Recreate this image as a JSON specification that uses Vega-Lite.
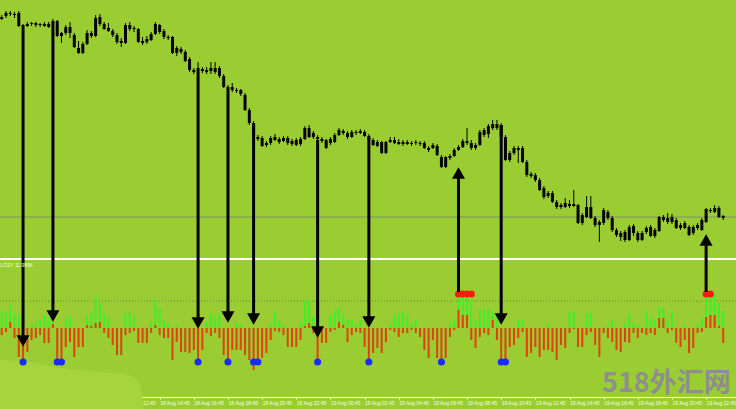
{
"$schema":"https://vega.github.io/schema/vega-lite/v6.json",
"width":736,"height":409,"autosize":"none","padding":0,
"background":"#9acd32",
"config":{"view":{"stroke":null,"fill":"#9acd32"}},
"datasets":{
"bars":[
{"t":"2023-08-18T05:30Z","o":133.83,"h":133.85,"l":133.80,"c":133.81,"g":16,"r":-7},
{"t":"2023-08-18T05:45Z","o":133.84,"h":133.89,"l":133.82,"c":133.87,"g":16,"r":-4},
{"t":"2023-08-18T06:00Z","o":133.87,"h":133.89,"l":133.84,"c":133.86,"g":23,"r":6},
{"t":"2023-08-18T06:15Z","o":133.85,"h":133.88,"l":133.82,"c":133.86,"g":15,"r":-10},
{"t":"2023-08-18T06:30Z","o":133.87,"h":133.89,"l":133.73,"c":133.74,"g":13,"r":-29},
{"t":"2023-08-18T06:45Z","o":133.73,"h":133.76,"l":133.71,"c":133.75,"g":0,"r":-32},
{"t":"2023-08-18T07:00Z","o":133.74,"h":133.78,"l":133.73,"c":133.76,"g":0,"r":-24},
{"t":"2023-08-18T07:15Z","o":133.77,"h":133.78,"l":133.74,"c":133.76,"g":3,"r":-12},
{"t":"2023-08-18T07:30Z","o":133.77,"h":133.78,"l":133.73,"c":133.75,"g":6,"r":-10},
{"t":"2023-08-18T07:45Z","o":133.75,"h":133.77,"l":133.73,"c":133.76,"g":8,"r":-7},
{"t":"2023-08-18T08:00Z","o":133.76,"h":133.78,"l":133.73,"c":133.74,"g":13,"r":-15},
{"t":"2023-08-18T08:15Z","o":133.73,"h":133.78,"l":133.72,"c":133.76,"g":10,"r":-15},
{"t":"2023-08-18T08:30Z","o":133.77,"h":133.81,"l":133.75,"c":133.79,"g":15,"r":4},
{"t":"2023-08-18T08:45Z","o":133.79,"h":133.80,"l":133.63,"c":133.64,"g":0,"r":-34},
{"t":"2023-08-18T09:00Z","o":133.64,"h":133.68,"l":133.57,"c":133.67,"g":0,"r":-34},
{"t":"2023-08-18T09:15Z","o":133.67,"h":133.75,"l":133.65,"c":133.73,"g":10,"r":-19},
{"t":"2023-08-18T09:30Z","o":133.73,"h":133.78,"l":133.62,"c":133.67,"g":11,"r":-14},
{"t":"2023-08-18T09:45Z","o":133.65,"h":133.67,"l":133.52,"c":133.53,"g":0,"r":-29},
{"t":"2023-08-18T10:00Z","o":133.52,"h":133.59,"l":133.46,"c":133.47,"g":0,"r":-19},
{"t":"2023-08-18T10:15Z","o":133.47,"h":133.58,"l":133.46,"c":133.56,"g":0,"r":-19},
{"t":"2023-08-18T10:30Z","o":133.56,"h":133.70,"l":133.55,"c":133.67,"g":13,"r":3},
{"t":"2023-08-18T10:45Z","o":133.67,"h":133.69,"l":133.62,"c":133.64,"g":16,"r":2},
{"t":"2023-08-18T11:00Z","o":133.64,"h":133.85,"l":133.63,"c":133.82,"g":31,"r":5},
{"t":"2023-08-18T11:15Z","o":133.83,"h":133.86,"l":133.74,"c":133.76,"g":26,"r":6},
{"t":"2023-08-18T11:30Z","o":133.76,"h":133.78,"l":133.70,"c":133.71,"g":15,"r":-5},
{"t":"2023-08-18T11:45Z","o":133.72,"h":133.77,"l":133.68,"c":133.69,"g":10,"r":-10},
{"t":"2023-08-18T12:00Z","o":133.69,"h":133.71,"l":133.63,"c":133.65,"g":0,"r":-17},
{"t":"2023-08-18T12:15Z","o":133.65,"h":133.67,"l":133.56,"c":133.58,"g":0,"r":-27},
{"t":"2023-08-18T12:30Z","o":133.57,"h":133.62,"l":133.53,"c":133.59,"g":0,"r":-27},
{"t":"2023-08-18T12:45Z","o":133.57,"h":133.77,"l":133.56,"c":133.75,"g":15,"r":-7},
{"t":"2023-08-18T13:00Z","o":133.75,"h":133.78,"l":133.69,"c":133.71,"g":16,"r":-5},
{"t":"2023-08-18T13:15Z","o":133.71,"h":133.74,"l":133.68,"c":133.72,"g":11,"r":-3},
{"t":"2023-08-18T13:30Z","o":133.71,"h":133.72,"l":133.57,"c":133.58,"g":0,"r":-15},
{"t":"2023-08-18T13:45Z","o":133.59,"h":133.63,"l":133.55,"c":133.57,"g":0,"r":-15},
{"t":"2023-08-18T14:00Z","o":133.58,"h":133.64,"l":133.56,"c":133.61,"g":0,"r":-15},
{"t":"2023-08-18T14:15Z","o":133.60,"h":133.68,"l":133.59,"c":133.66,"g":6,"r":-5},
{"t":"2023-08-18T14:30Z","o":133.66,"h":133.78,"l":133.65,"c":133.76,"g":28,"r":3},
{"t":"2023-08-18T14:45Z","o":133.75,"h":133.76,"l":133.66,"c":133.68,"g":20,"r":-7},
{"t":"2023-08-18T15:00Z","o":133.69,"h":133.71,"l":133.61,"c":133.63,"g":8,"r":-10},
{"t":"2023-08-18T15:15Z","o":133.63,"h":133.65,"l":133.60,"c":133.62,"g":5,"r":-10},
{"t":"2023-08-18T15:30Z","o":133.63,"h":133.64,"l":133.46,"c":133.47,"g":0,"r":-32},
{"t":"2023-08-18T15:45Z","o":133.47,"h":133.54,"l":133.44,"c":133.52,"g":2,"r":-14},
{"t":"2023-08-18T16:00Z","o":133.51,"h":133.53,"l":133.46,"c":133.48,"g":0,"r":-24},
{"t":"2023-08-18T16:15Z","o":133.48,"h":133.50,"l":133.38,"c":133.39,"g":0,"r":-24},
{"t":"2023-08-18T16:30Z","o":133.41,"h":133.43,"l":133.28,"c":133.30,"g":0,"r":-25},
{"t":"2023-08-18T16:45Z","o":133.30,"h":133.32,"l":133.26,"c":133.28,"g":0,"r":-22},
{"t":"2023-08-18T17:00Z","o":133.28,"h":133.38,"l":133.26,"c":133.32,"g":0,"r":-32},
{"t":"2023-08-18T17:15Z","o":133.31,"h":133.33,"l":133.27,"c":133.29,"g":0,"r":-22},
{"t":"2023-08-18T17:30Z","o":133.28,"h":133.33,"l":133.26,"c":133.30,"g":6,"r":-5},
{"t":"2023-08-18T17:45Z","o":133.29,"h":133.38,"l":133.26,"c":133.32,"g":15,"r":-8},
{"t":"2023-08-18T18:00Z","o":133.32,"h":133.38,"l":133.26,"c":133.28,"g":13,"r":-5},
{"t":"2023-08-18T18:15Z","o":133.32,"h":133.34,"l":133.22,"c":133.24,"g":15,"r":-10},
{"t":"2023-08-18T18:30Z","o":133.24,"h":133.26,"l":133.12,"c":133.13,"g":0,"r":-27},
{"t":"2023-08-18T18:45Z","o":133.13,"h":133.15,"l":133.09,"c":133.11,"g":0,"r":-32},
{"t":"2023-08-18T19:00Z","o":133.10,"h":133.17,"l":133.08,"c":133.13,"g":0,"r":-22},
{"t":"2023-08-18T19:15Z","o":133.10,"h":133.12,"l":133.07,"c":133.09,"g":5,"r":-22},
{"t":"2023-08-18T19:30Z","o":133.10,"h":133.11,"l":133.04,"c":133.06,"g":3,"r":-22},
{"t":"2023-08-18T19:45Z","o":133.05,"h":133.07,"l":132.89,"c":132.90,"g":0,"r":-27},
{"t":"2023-08-18T20:00Z","o":132.90,"h":132.92,"l":132.75,"c":132.77,"g":0,"r":-32},
{"t":"2023-08-18T20:15Z","o":132.77,"h":132.79,"l":132.62,"c":132.63,"g":0,"r":-42},
{"t":"2023-08-18T20:30Z","o":132.63,"h":132.65,"l":132.59,"c":132.61,"g":0,"r":-34},
{"t":"2023-08-18T20:45Z","o":132.62,"h":132.64,"l":132.53,"c":132.54,"g":0,"r":-30},
{"t":"2023-08-18T21:00Z","o":132.55,"h":132.59,"l":132.53,"c":132.57,"g":0,"r":-25},
{"t":"2023-08-18T21:15Z","o":132.57,"h":132.64,"l":132.55,"c":132.62,"g":4,"r":-12},
{"t":"2023-08-18T21:30Z","o":132.63,"h":132.66,"l":132.59,"c":132.60,"g":16,"r":-3},
{"t":"2023-08-18T21:45Z","o":132.61,"h":132.63,"l":132.56,"c":132.58,"g":8,"r":-4},
{"t":"2023-08-18T22:00Z","o":132.59,"h":132.64,"l":132.58,"c":132.62,"g":3,"r":-7},
{"t":"2023-08-18T22:15Z","o":132.62,"h":132.64,"l":132.55,"c":132.57,"g":0,"r":-19},
{"t":"2023-08-18T22:30Z","o":132.59,"h":132.61,"l":132.54,"c":132.56,"g":0,"r":-19},
{"t":"2023-08-18T22:45Z","o":132.55,"h":132.62,"l":132.54,"c":132.60,"g":0,"r":-19},
{"t":"2023-08-18T23:00Z","o":132.56,"h":132.63,"l":132.54,"c":132.61,"g":6,"r":-12},
{"t":"2023-08-18T23:15Z","o":132.61,"h":132.74,"l":132.60,"c":132.72,"g":28,"r":2},
{"t":"2023-08-18T23:30Z","o":132.72,"h":132.75,"l":132.62,"c":132.63,"g":28,"r":5},
{"t":"2023-08-18T23:45Z","o":132.63,"h":132.69,"l":132.61,"c":132.67,"g":11,"r":-5},
{"t":"2023-08-19T00:00Z","o":132.63,"h":132.65,"l":132.59,"c":132.61,"g":0,"r":-35},
{"t":"2023-08-19T00:15Z","o":132.61,"h":132.63,"l":132.57,"c":132.59,"g":0,"r":-15},
{"t":"2023-08-19T00:30Z","o":132.60,"h":132.61,"l":132.51,"c":132.52,"g":0,"r":-15},
{"t":"2023-08-19T00:45Z","o":132.57,"h":132.63,"l":132.55,"c":132.61,"g":13,"r":-4},
{"t":"2023-08-19T01:00Z","o":132.58,"h":132.67,"l":132.57,"c":132.65,"g":18,"r":-2},
{"t":"2023-08-19T01:15Z","o":132.65,"h":132.72,"l":132.64,"c":132.70,"g":20,"r":6},
{"t":"2023-08-19T01:30Z","o":132.69,"h":132.71,"l":132.65,"c":132.67,"g":13,"r":3},
{"t":"2023-08-19T01:45Z","o":132.67,"h":132.69,"l":132.61,"c":132.63,"g":8,"r":-14},
{"t":"2023-08-19T02:00Z","o":132.63,"h":132.70,"l":132.62,"c":132.68,"g":8,"r":-7},
{"t":"2023-08-19T02:15Z","o":132.68,"h":132.70,"l":132.65,"c":132.67,"g":3,"r":-4},
{"t":"2023-08-19T02:30Z","o":132.67,"h":132.71,"l":132.66,"c":132.69,"g":8,"r":-5},
{"t":"2023-08-19T02:45Z","o":132.68,"h":132.70,"l":132.63,"c":132.64,"g":0,"r":-19},
{"t":"2023-08-19T03:00Z","o":132.64,"h":132.66,"l":132.59,"c":132.60,"g":0,"r":-32},
{"t":"2023-08-19T03:15Z","o":132.60,"h":132.62,"l":132.54,"c":132.55,"g":0,"r":-25},
{"t":"2023-08-19T03:30Z","o":132.54,"h":132.60,"l":132.53,"c":132.58,"g":0,"r":-20},
{"t":"2023-08-19T03:45Z","o":132.58,"h":132.59,"l":132.46,"c":132.47,"g":0,"r":-25},
{"t":"2023-08-19T04:00Z","o":132.47,"h":132.59,"l":132.46,"c":132.58,"g":0,"r":-14},
{"t":"2023-08-19T04:15Z","o":132.58,"h":132.63,"l":132.57,"c":132.60,"g":5,"r":-2},
{"t":"2023-08-19T04:30Z","o":132.60,"h":132.63,"l":132.56,"c":132.57,"g":13,"r":-4},
{"t":"2023-08-19T04:45Z","o":132.58,"h":132.61,"l":132.55,"c":132.56,"g":15,"r":-9},
{"t":"2023-08-19T05:00Z","o":132.56,"h":132.60,"l":132.54,"c":132.58,"g":16,"r":-5},
{"t":"2023-08-19T05:15Z","o":132.58,"h":132.60,"l":132.55,"c":132.56,"g":13,"r":-5},
{"t":"2023-08-19T05:30Z","o":132.56,"h":132.59,"l":132.54,"c":132.57,"g":5,"r":-2},
{"t":"2023-08-19T05:45Z","o":132.58,"h":132.60,"l":132.55,"c":132.57,"g":8,"r":-5},
{"t":"2023-08-19T06:00Z","o":132.57,"h":132.59,"l":132.54,"c":132.56,"g":0,"r":-9},
{"t":"2023-08-19T06:15Z","o":132.57,"h":132.59,"l":132.51,"c":132.52,"g":0,"r":-22},
{"t":"2023-08-19T06:30Z","o":132.52,"h":132.54,"l":132.48,"c":132.50,"g":0,"r":-30},
{"t":"2023-08-19T06:45Z","o":132.52,"h":132.57,"l":132.51,"c":132.55,"g":0,"r":-12},
{"t":"2023-08-19T07:00Z","o":132.54,"h":132.56,"l":132.44,"c":132.45,"g":0,"r":-30},
{"t":"2023-08-19T07:15Z","o":132.43,"h":132.45,"l":132.32,"c":132.33,"g":0,"r":-36},
{"t":"2023-08-19T07:30Z","o":132.33,"h":132.44,"l":132.32,"c":132.43,"g":0,"r":-30},
{"t":"2023-08-19T07:45Z","o":132.42,"h":132.46,"l":132.40,"c":132.44,"g":6,"r":-9},
{"t":"2023-08-19T08:00Z","o":132.44,"h":132.52,"l":132.43,"c":132.50,"g":8,"r":-2},
{"t":"2023-08-19T08:15Z","o":132.50,"h":132.55,"l":132.49,"c":132.53,"g":31,"r":18},
{"t":"2023-08-19T08:30Z","o":132.53,"h":132.61,"l":132.52,"c":132.59,"g":31,"r":13},
{"t":"2023-08-19T08:45Z","o":132.59,"h":132.72,"l":132.55,"c":132.57,"g":31,"r":13},
{"t":"2023-08-19T09:00Z","o":132.57,"h":132.60,"l":132.50,"c":132.52,"g":28,"r":-12},
{"t":"2023-08-19T09:15Z","o":132.52,"h":132.57,"l":132.50,"c":132.55,"g":8,"r":-20},
{"t":"2023-08-19T09:30Z","o":132.55,"h":132.70,"l":132.54,"c":132.68,"g":18,"r":-9},
{"t":"2023-08-19T09:45Z","o":132.70,"h":132.72,"l":132.63,"c":132.65,"g":18,"r":-5},
{"t":"2023-08-19T10:00Z","o":132.66,"h":132.76,"l":132.62,"c":132.74,"g":20,"r":-7},
{"t":"2023-08-19T10:15Z","o":132.76,"h":132.80,"l":132.70,"c":132.72,"g":16,"r":8},
{"t":"2023-08-19T10:30Z","o":132.72,"h":132.80,"l":132.70,"c":132.76,"g":15,"r":-12},
{"t":"2023-08-19T10:45Z","o":132.75,"h":132.77,"l":132.61,"c":132.63,"g":0,"r":-32},
{"t":"2023-08-19T11:00Z","o":132.63,"h":132.65,"l":132.39,"c":132.40,"g":0,"r":-32},
{"t":"2023-08-19T11:15Z","o":132.40,"h":132.49,"l":132.38,"c":132.47,"g":0,"r":-19},
{"t":"2023-08-19T11:30Z","o":132.47,"h":132.54,"l":132.45,"c":132.52,"g":0,"r":-17},
{"t":"2023-08-19T11:45Z","o":132.50,"h":132.54,"l":132.37,"c":132.52,"g":8,"r":-10},
{"t":"2023-08-19T12:00Z","o":132.52,"h":132.54,"l":132.37,"c":132.38,"g":8,"r":-4},
{"t":"2023-08-19T12:15Z","o":132.38,"h":132.40,"l":132.23,"c":132.25,"g":0,"r":-29},
{"t":"2023-08-19T12:30Z","o":132.26,"h":132.28,"l":132.22,"c":132.24,"g":0,"r":-25},
{"t":"2023-08-19T12:45Z","o":132.25,"h":132.27,"l":132.18,"c":132.20,"g":0,"r":-19},
{"t":"2023-08-19T13:00Z","o":132.20,"h":132.22,"l":132.09,"c":132.10,"g":0,"r":-29},
{"t":"2023-08-19T13:15Z","o":132.12,"h":132.14,"l":132.01,"c":132.03,"g":0,"r":-22},
{"t":"2023-08-19T13:30Z","o":132.04,"h":132.09,"l":132.02,"c":132.07,"g":5,"r":-22},
{"t":"2023-08-19T13:45Z","o":132.07,"h":132.09,"l":131.97,"c":131.98,"g":0,"r":-24},
{"t":"2023-08-19T14:00Z","o":131.98,"h":132.00,"l":131.91,"c":131.93,"g":0,"r":-32},
{"t":"2023-08-19T14:15Z","o":131.93,"h":131.97,"l":131.91,"c":131.95,"g":1,"r":-17},
{"t":"2023-08-19T14:30Z","o":131.93,"h":132.02,"l":131.92,"c":131.97,"g":0,"r":-20},
{"t":"2023-08-19T14:45Z","o":131.96,"h":132.00,"l":131.92,"c":131.94,"g":16,"r":-5},
{"t":"2023-08-19T15:00Z","o":131.94,"h":132.10,"l":131.93,"c":131.96,"g":16,"r":-1},
{"t":"2023-08-19T15:15Z","o":131.95,"h":131.96,"l":131.76,"c":131.77,"g":0,"r":-19},
{"t":"2023-08-19T15:30Z","o":131.77,"h":131.87,"l":131.75,"c":131.85,"g":0,"r":-19},
{"t":"2023-08-19T15:45Z","o":131.83,"h":132.04,"l":131.82,"c":131.93,"g":15,"r":-7},
{"t":"2023-08-19T16:00Z","o":131.93,"h":132.04,"l":131.81,"c":131.82,"g":15,"r":-4},
{"t":"2023-08-19T16:15Z","o":131.82,"h":131.84,"l":131.73,"c":131.75,"g":0,"r":-17},
{"t":"2023-08-19T16:30Z","o":131.78,"h":131.80,"l":131.58,"c":131.75,"g":0,"r":-29},
{"t":"2023-08-19T16:45Z","o":131.77,"h":131.92,"l":131.75,"c":131.90,"g":1,"r":-5},
{"t":"2023-08-19T17:00Z","o":131.88,"h":131.90,"l":131.80,"c":131.82,"g":3,"r":-10},
{"t":"2023-08-19T17:15Z","o":131.82,"h":131.84,"l":131.68,"c":131.70,"g":8,"r":-14},
{"t":"2023-08-19T17:30Z","o":131.70,"h":131.72,"l":131.63,"c":131.65,"g":0,"r":-22},
{"t":"2023-08-19T17:45Z","o":131.67,"h":131.69,"l":131.59,"c":131.63,"g":0,"r":-24},
{"t":"2023-08-19T18:00Z","o":131.68,"h":131.70,"l":131.58,"c":131.60,"g":5,"r":-14},
{"t":"2023-08-19T18:15Z","o":131.60,"h":131.75,"l":131.59,"c":131.73,"g":15,"r":-15},
{"t":"2023-08-19T18:30Z","o":131.74,"h":131.76,"l":131.64,"c":131.67,"g":5,"r":-5},
{"t":"2023-08-19T18:45Z","o":131.67,"h":131.69,"l":131.58,"c":131.60,"g":3,"r":-10},
{"t":"2023-08-19T19:00Z","o":131.60,"h":131.69,"l":131.59,"c":131.67,"g":0,"r":-5},
{"t":"2023-08-19T19:15Z","o":131.68,"h":131.74,"l":131.66,"c":131.72,"g":16,"r":-7},
{"t":"2023-08-19T19:30Z","o":131.73,"h":131.75,"l":131.63,"c":131.64,"g":10,"r":-5},
{"t":"2023-08-19T19:45Z","o":131.64,"h":131.72,"l":131.62,"c":131.70,"g":8,"r":-7},
{"t":"2023-08-19T20:00Z","o":131.69,"h":131.84,"l":131.68,"c":131.83,"g":21,"r":10},
{"t":"2023-08-19T20:15Z","o":131.80,"h":131.85,"l":131.78,"c":131.83,"g":20,"r":10},
{"t":"2023-08-19T20:30Z","o":131.82,"h":131.87,"l":131.76,"c":131.78,"g":8,"r":-5},
{"t":"2023-08-19T20:45Z","o":131.78,"h":131.86,"l":131.76,"c":131.83,"g":16,"r":-2},
{"t":"2023-08-19T21:00Z","o":131.80,"h":131.82,"l":131.71,"c":131.72,"g":0,"r":-15},
{"t":"2023-08-19T21:15Z","o":131.72,"h":131.77,"l":131.70,"c":131.75,"g":0,"r":-19},
{"t":"2023-08-19T21:30Z","o":131.77,"h":131.79,"l":131.71,"c":131.72,"g":3,"r":-12},
{"t":"2023-08-19T21:45Z","o":131.73,"h":131.75,"l":131.64,"c":131.65,"g":0,"r":-25},
{"t":"2023-08-19T22:00Z","o":131.67,"h":131.75,"l":131.65,"c":131.73,"g":0,"r":-20},
{"t":"2023-08-19T22:15Z","o":131.72,"h":131.77,"l":131.70,"c":131.75,"g":3,"r":-5},
{"t":"2023-08-19T22:30Z","o":131.70,"h":131.82,"l":131.69,"c":131.80,"g":10,"r":-4},
{"t":"2023-08-19T22:45Z","o":131.78,"h":131.92,"l":131.77,"c":131.91,"g":34,"r":11},
{"t":"2023-08-19T23:00Z","o":131.90,"h":131.92,"l":131.87,"c":131.89,"g":34,"r":13},
{"t":"2023-08-19T23:15Z","o":131.88,"h":131.95,"l":131.87,"c":131.92,"g":34,"r":13},
{"t":"2023-08-19T23:30Z","o":131.92,"h":131.94,"l":131.82,"c":131.83,"g":25,"r":2},
{"t":"2023-08-19T23:45Z","o":131.84,"h":131.85,"l":131.80,"c":131.82,"g":17,"r":-15}
],
"arrows":[
{"t":"2023-08-18T06:45Z","from":133.73,"to":130.53,"dir":"down"},
{"t":"2023-08-18T08:30Z","from":133.77,"to":130.78,"dir":"down"},
{"t":"2023-08-18T17:00Z","from":133.28,"to":130.71,"dir":"down"},
{"t":"2023-08-18T18:45Z","from":133.11,"to":130.77,"dir":"down"},
{"t":"2023-08-18T20:15Z","from":132.75,"to":130.75,"dir":"down"},
{"t":"2023-08-19T00:00Z","from":132.60,"to":130.62,"dir":"down"},
{"t":"2023-08-19T03:00Z","from":132.62,"to":130.72,"dir":"down"},
{"t":"2023-08-19T10:45Z","from":132.75,"to":130.75,"dir":"down"},
{"t":"2023-08-19T08:15Z","from":131.08,"to":132.33,"dir":"up"},
{"t":"2023-08-19T22:45Z","from":131.08,"to":131.66,"dir":"up"}
],
"dots":[
{"t":"2023-08-18T06:45Z","v":-34,"kind":"blue"},
{"t":"2023-08-18T08:45Z","v":-34,"kind":"blue"},
{"t":"2023-08-18T09:00Z","v":-34,"kind":"blue"},
{"t":"2023-08-18T17:00Z","v":-34,"kind":"blue"},
{"t":"2023-08-18T18:45Z","v":-34,"kind":"blue"},
{"t":"2023-08-18T20:15Z","v":-34,"kind":"blue"},
{"t":"2023-08-18T20:30Z","v":-34,"kind":"blue"},
{"t":"2023-08-19T00:00Z","v":-34,"kind":"blue"},
{"t":"2023-08-19T03:00Z","v":-34,"kind":"blue"},
{"t":"2023-08-19T07:15Z","v":-34,"kind":"blue"},
{"t":"2023-08-19T10:45Z","v":-34,"kind":"blue"},
{"t":"2023-08-19T11:00Z","v":-34,"kind":"blue"},
{"t":"2023-08-19T08:15Z","v":34,"kind":"red"},
{"t":"2023-08-19T08:30Z","v":34,"kind":"red"},
{"t":"2023-08-19T08:45Z","v":34,"kind":"red"},
{"t":"2023-08-19T09:00Z","v":34,"kind":"red"},
{"t":"2023-08-19T22:45Z","v":34,"kind":"red"},
{"t":"2023-08-19T23:00Z","v":34,"kind":"red"}
],
"blob":[
{"t":"2023-08-18T05:20Z","v":-32},
{"t":"2023-08-18T07:09Z","v":-34},
{"t":"2023-08-18T08:55Z","v":-40},
{"t":"2023-08-18T11:15Z","v":-44},
{"t":"2023-08-18T13:00Z","v":-47},
{"t":"2023-08-18T13:36Z","v":-57},
{"t":"2023-08-18T13:47Z","v":-81}
],
"notes":[
{"t":"2023-08-19T16:39Z","v":-70,"text":"518外汇网","kind":"wm"},
{"t":"2023-08-18T05:25Z","v":63,"text":"LOSY 11.9996","kind":"label"}
]
},
"layer":[
{"data":{"name":"blob"},"mark":{"type":"area","color":"#a6d53b","interpolate":"monotone"},
 "encoding":{"x":{"field":"t","type":"temporal","axis":null,"scale":{"type":"utc","padding":0,"domain":[{"year":2023,"month":8,"date":18,"hours":5,"minutes":24,"utc":true},{"year":2023,"month":8,"date":20,"hours":0,"minutes":30,"utc":true}]}},
 "y":{"field":"v","type":"quantitative","axis":null,"scale":{"domain":[-81,328],"nice":false,"zero":false}},
 "y2":{"datum":-81}}},
{"data":{"values":[{"k":1}]},"mark":{"type":"rule","color":"#7f8f66","strokeWidth":1},
 "encoding":{"y":{"datum":131.83,"type":"quantitative","axis":null,"scale":{"domain":[129.91,134.0],"nice":false,"zero":false}}}},
{"data":{"values":[{"k":1}]},"mark":{"type":"rule","color":"#ffffff","strokeWidth":2},
 "encoding":{"y":{"datum":131.41,"type":"quantitative","axis":null,"scale":{"domain":[129.91,134.0],"nice":false,"zero":false}}}},
{"data":{"values":[{"k":1}]},"mark":{"type":"rule","color":"#6f8048","strokeWidth":1,"strokeDash":[1,2]},
 "encoding":{"y":{"datum":27,"type":"quantitative","axis":null,"scale":{"domain":[-81,328],"nice":false,"zero":false}}}},
{"data":{"name":"bars"},"mark":{"type":"bar","color":"#3df02a","width":2},
 "encoding":{"x":{"field":"t","type":"temporal","title":null,"scale":{"type":"utc","padding":0,"domain":[{"year":2023,"month":8,"date":18,"hours":5,"minutes":24,"utc":true},{"year":2023,"month":8,"date":20,"hours":0,"minutes":30,"utc":true}]},
   "axis":{"orient":"bottom","offset":-12,"grid":false,"title":null,
     "values":[{"year":2023,"month":8,"date":18,"hours":10,"minutes":45,"utc":true},{"year":2023,"month":8,"date":18,"hours":12,"minutes":45,"utc":true},{"year":2023,"month":8,"date":18,"hours":14,"minutes":45,"utc":true},{"year":2023,"month":8,"date":18,"hours":16,"minutes":45,"utc":true},{"year":2023,"month":8,"date":18,"hours":18,"minutes":45,"utc":true},{"year":2023,"month":8,"date":18,"hours":20,"minutes":45,"utc":true},{"year":2023,"month":8,"date":18,"hours":22,"minutes":45,"utc":true},{"year":2023,"month":8,"date":19,"hours":0,"minutes":45,"utc":true},{"year":2023,"month":8,"date":19,"hours":2,"minutes":45,"utc":true},{"year":2023,"month":8,"date":19,"hours":4,"minutes":45,"utc":true},{"year":2023,"month":8,"date":19,"hours":6,"minutes":45,"utc":true},{"year":2023,"month":8,"date":19,"hours":8,"minutes":45,"utc":true},{"year":2023,"month":8,"date":19,"hours":10,"minutes":45,"utc":true},{"year":2023,"month":8,"date":19,"hours":12,"minutes":45,"utc":true},{"year":2023,"month":8,"date":19,"hours":14,"minutes":45,"utc":true},{"year":2023,"month":8,"date":19,"hours":16,"minutes":45,"utc":true},{"year":2023,"month":8,"date":19,"hours":18,"minutes":45,"utc":true},{"year":2023,"month":8,"date":19,"hours":20,"minutes":45,"utc":true},{"year":2023,"month":8,"date":19,"hours":22,"minutes":45,"utc":true}],
     "labelExpr":"utcFormat(datum.value, '%d %b %H:%M')",
     "labelColor":"#f4ffe0","labelFont":"Liberation Sans","labelFontSize":5,"labelAlign":"left","labelBaseline":"top","labelPadding":1,"labelOverlap":false,"labelFlush":false,"labelBound":false,
     "domainColor":"#f4ffe0","domainWidth":1,"tickColor":"#f4ffe0","tickSize":2,"tickWidth":1}},
 "y":{"field":"g","type":"quantitative","axis":null,"scale":{"domain":[-81,328],"nice":false,"zero":false}},
 "y2":{"datum":0}}},
{"data":{"name":"bars"},"mark":{"type":"bar","color":"#e0420e","width":2},
 "encoding":{"x":{"field":"t","type":"temporal","axis":null,"scale":{"type":"utc","padding":0,"domain":[{"year":2023,"month":8,"date":18,"hours":5,"minutes":24,"utc":true},{"year":2023,"month":8,"date":20,"hours":0,"minutes":30,"utc":true}]}},
 "y":{"field":"r","type":"quantitative","axis":null,"scale":{"domain":[-81,328],"nice":false,"zero":false}},
 "y2":{"datum":0}}},
{"data":{"name":"bars"},"mark":{"type":"rule","color":"#000000","strokeWidth":1},
 "encoding":{"x":{"field":"t","type":"temporal","axis":null,"scale":{"type":"utc","padding":0,"domain":[{"year":2023,"month":8,"date":18,"hours":5,"minutes":24,"utc":true},{"year":2023,"month":8,"date":20,"hours":0,"minutes":30,"utc":true}]}},
 "y":{"field":"l","type":"quantitative","axis":null,"scale":{"domain":[129.91,134.0],"nice":false,"zero":false}},
 "y2":{"field":"h"}}},
{"data":{"name":"bars"},"mark":{"type":"bar","color":"#000000","width":3},
 "encoding":{"x":{"field":"t","type":"temporal","axis":null,"scale":{"type":"utc","padding":0,"domain":[{"year":2023,"month":8,"date":18,"hours":5,"minutes":24,"utc":true},{"year":2023,"month":8,"date":20,"hours":0,"minutes":30,"utc":true}]}},
 "y":{"field":"o","type":"quantitative","axis":null,"scale":{"domain":[129.91,134.0],"nice":false,"zero":false}},
 "y2":{"field":"c"}}},
{"data":{"name":"dots"},"mark":{"type":"point","filled":true,"shape":"circle","size":50,"opacity":1},
 "encoding":{"x":{"field":"t","type":"temporal","axis":null,"scale":{"type":"utc","padding":0,"domain":[{"year":2023,"month":8,"date":18,"hours":5,"minutes":24,"utc":true},{"year":2023,"month":8,"date":20,"hours":0,"minutes":30,"utc":true}]}},
 "y":{"field":"v","type":"quantitative","axis":null,"scale":{"domain":[-81,328],"nice":false,"zero":false}},
 "color":{"field":"kind","type":"nominal","legend":null,"scale":{"domain":["blue","red"],"range":["#1a2cff","#ff1a10"]}}}},
{"data":{"name":"arrows"},"transform":[{"filter":"datum.dir == 'down'"}],"mark":{"type":"rule","color":"#000000","strokeWidth":3,"y2Offset":-8},
 "encoding":{"x":{"field":"t","type":"temporal","axis":null,"scale":{"type":"utc","padding":0,"domain":[{"year":2023,"month":8,"date":18,"hours":5,"minutes":24,"utc":true},{"year":2023,"month":8,"date":20,"hours":0,"minutes":30,"utc":true}]}},
 "y":{"field":"from","type":"quantitative","axis":null,"scale":{"domain":[129.91,134.0],"nice":false,"zero":false}},
 "y2":{"field":"to"}}},
{"data":{"name":"arrows"},"transform":[{"filter":"datum.dir == 'up'"}],"mark":{"type":"rule","color":"#000000","strokeWidth":3,"y2Offset":8},
 "encoding":{"x":{"field":"t","type":"temporal","axis":null,"scale":{"type":"utc","padding":0,"domain":[{"year":2023,"month":8,"date":18,"hours":5,"minutes":24,"utc":true},{"year":2023,"month":8,"date":20,"hours":0,"minutes":30,"utc":true}]}},
 "y":{"field":"from","type":"quantitative","axis":null,"scale":{"domain":[129.91,134.0],"nice":false,"zero":false}},
 "y2":{"field":"to"}}},
{"data":{"name":"arrows"},"transform":[{"filter":"datum.dir == 'down'"}],"mark":{"type":"point","shape":"triangle-down","filled":true,"size":170,"color":"#000000","opacity":1,"yOffset":-6},
 "encoding":{"x":{"field":"t","type":"temporal","axis":null,"scale":{"type":"utc","padding":0,"domain":[{"year":2023,"month":8,"date":18,"hours":5,"minutes":24,"utc":true},{"year":2023,"month":8,"date":20,"hours":0,"minutes":30,"utc":true}]}},
 "y":{"field":"to","type":"quantitative","axis":null,"scale":{"domain":[129.91,134.0],"nice":false,"zero":false}}}},
{"data":{"name":"arrows"},"transform":[{"filter":"datum.dir == 'up'"}],"mark":{"type":"point","shape":"triangle-up","filled":true,"size":170,"color":"#000000","opacity":1,"yOffset":6},
 "encoding":{"x":{"field":"t","type":"temporal","axis":null,"scale":{"type":"utc","padding":0,"domain":[{"year":2023,"month":8,"date":18,"hours":5,"minutes":24,"utc":true},{"year":2023,"month":8,"date":20,"hours":0,"minutes":30,"utc":true}]}},
 "y":{"field":"to","type":"quantitative","axis":null,"scale":{"domain":[129.91,134.0],"nice":false,"zero":false}}}},
{"data":{"name":"notes"},"transform":[{"filter":"datum.kind == 'wm'"}],"mark":{"type":"text","align":"left","baseline":"bottom","font":"Noto Sans CJK SC","fontWeight":"bold","fontSize":27,"color":"#8e8e8e"},
 "encoding":{"x":{"field":"t","type":"temporal","axis":null,"scale":{"type":"utc","padding":0,"domain":[{"year":2023,"month":8,"date":18,"hours":5,"minutes":24,"utc":true},{"year":2023,"month":8,"date":20,"hours":0,"minutes":30,"utc":true}]}},
 "y":{"field":"v","type":"quantitative","axis":null,"scale":{"domain":[-81,328],"nice":false,"zero":false}},
 "text":{"field":"text"}}},
{"data":{"name":"notes"},"transform":[{"filter":"datum.kind == 'label'"}],"mark":{"type":"text","align":"left","baseline":"middle","font":"Liberation Sans","fontSize":5,"color":"#f4ffe0"},
 "encoding":{"x":{"field":"t","type":"temporal","axis":null,"scale":{"type":"utc","padding":0,"domain":[{"year":2023,"month":8,"date":18,"hours":5,"minutes":24,"utc":true},{"year":2023,"month":8,"date":20,"hours":0,"minutes":30,"utc":true}]}},
 "y":{"field":"v","type":"quantitative","axis":null,"scale":{"domain":[-81,328],"nice":false,"zero":false}},
 "text":{"field":"text"}}}
],
"resolve":{"scale":{"y":"independent"},"axis":{"x":"independent"}}
}
